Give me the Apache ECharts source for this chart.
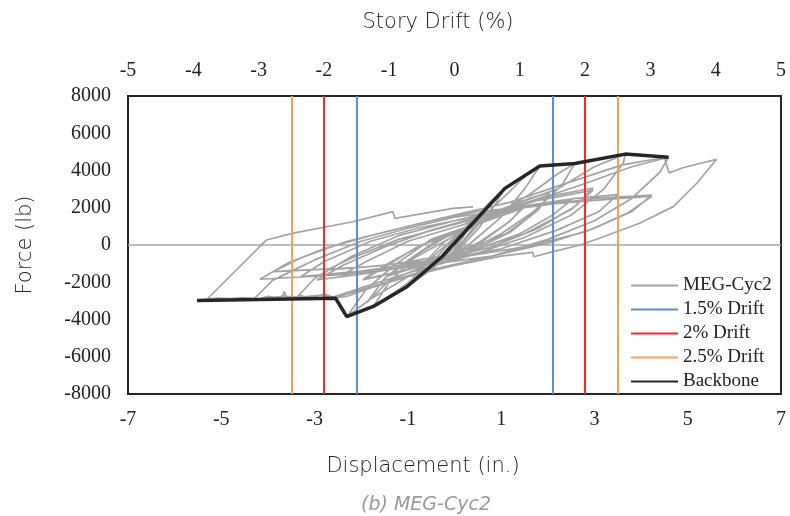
<!DOCTYPE html>
<html><head><meta charset="utf-8">
<script src="https://cdn.jsdelivr.net/npm/echarts@6/dist/echarts.min.js"></script>
<style>html,body{margin:0;padding:0;background:#fff}#c{width:790px;height:516px}</style>
</head><body><div id="c"></div>
<script>
// Tick labels
var forceTicks = [-8000,-6000,-4000,-2000,0,2000,4000,6000,8000];
var dispTicks = [-7,-5,-3,-1,1,3,5,7];
var driftTicks = [-5,-4,-3,-2,-1,0,1,2,3,4,5];
var storyHeight = 140; // in. (7 in. = 5 %)

// Drift limits (%)
var driftLevels = [1.5, 2, 2.5];
var driftNames = ['1.5% Drift','2% Drift','2.5% Drift'];
var driftColors = ['#5B8FD0','#FF2525','#F9A04E'];

// Backbone (displacement in., force lb)
var backbone = [[-5.52,-2980],[-2.55,-2860],[-2.31,-3850],[-1.74,-3300],[-1.02,-2240],[-0.27,-630],
  [1.08,3040],[1.83,4240],[2.58,4380],[3.66,4880],[4.59,4710]];

// Cyclic test curve MEG-Cyc2 (displacement in., force lb)
var megCyc2 = [
 [0,0],[0.12,500],[0.25,900],[0.1,300],[0,-150],[-0.25,-650],[-0.1,-200],[0,200],
 [0.25,900],[0.45,1500],[0.25,700],[0,-300],[-0.25,-800],[-0.45,-1100],[-0.25,-500],[0,300],
 [0.4,1200],[0.7,2100],[0.45,1100],[0,-400],[-0.4,-1100],[-0.65,-1550],[-0.4,-700],[0,400],
 [0.5,1600],[0.8,2400],[1.08,3040],[0.8,1900],[0.3,500],[0,-400],[-0.6,-1500],[-1.02,-2240],[-0.7,-1100],[-0.2,200],[0,500],
 [0.5,1300],[0.8,1950],[0.55,1000],[0,-500],[-0.5,-1100],[-0.8,-1450],[-0.5,-700],[0,400],
 [0.6,1500],[1.2,2900],[1.55,3800],[1.83,4240],[1.5,3000],[1.0,1500],[0.3,0],[-0.5,-1100],[-1.2,-2400],[-1.74,-3300],[-1.4,-2000],[-0.8,-500],[0,700],
 [0.6,1200],[1.1,1800],[1.47,2060],[1.2,1300],[0.6,200],[0,-500],[-0.8,-1300],[-1.4,-1900],[-1.88,-3100],[-1.5,-1800],[-1.1,-1000],[-0.4,200],[0,600],
 [0.7,1300],[1.47,1980],[1.15,1200],[0.5,100],[-0.2,-700],[-1.4,-1650],[-1.05,-950],[0,500],
 [0.8,1500],[1.6,2700],[2.2,3800],[2.58,4380],[2.3,3200],[1.7,1800],[1.0,600],[0,-700],[-1.0,-1700],[-1.8,-2900],[-2.31,-3850],[-1.9,-2400],[-1.3,-1100],[-0.5,300],[0.3,1000],
 [1.0,1900],[1.6,2500],[2.04,2800],[1.8,1900],[1.2,700],[0.3,-400],[-0.8,-1200],[-1.96,-1880],[-1.5,-1200],[-0.8,-100],[0.2,900],
 [1.2,2000],[2.04,2700],[1.75,1800],[1.1,600],[0,-500],[-1.0,-1300],[-1.96,-1850],[-1.5,-1100],[-0.7,0],[0.3,900],
 [1.0,1700],[1.8,2200],[2.5,2400],[2.1,1600],[1.4,600],[0.4,-300],[-0.9,-1000],[-2.4,-1600],[-1.9,-900],[-1.0,200],[0.2,1100],
 [1.2,2100],[2.2,3000],[3.0,4200],[3.66,4880],[3.62,4400],[3.2,3000],[2.5,1600],[1.5,400],[0.3,-600],[-1.0,-1500],[-2.0,-2300],[-2.6,-2800],[-2.8,-2650],[-3.0,-2780],[-3.4,-2870],[-3.0,-1800],[-2.2,-600],[-1.2,500],[0,1300],
 [1.0,1900],[2.0,2600],[2.97,3060],[2.6,2100],[1.8,900],[0.8,-100],[-0.5,-900],[-1.8,-1500],[-2.95,-1880],[-2.4,-1100],[-1.5,-100],[-0.5,800],[0.5,1500],
 [1.8,2400],[2.97,2950],[2.5,1900],[1.5,600],[0.2,-400],[-1.5,-1100],[-2.74,-1340],[-2.2,-700],[-1.2,300],[0,1100],
 [1.5,2100],[2.6,2500],[3.5,2700],[3.1,1800],[2.2,800],[1.0,-200],[-0.6,-900],[-2.0,-1400],[-3.3,-1700],[-2.8,-900],[-1.8,200],[-0.8,900],[0.2,1400],
 [1.5,2200],[2.8,3300],[3.8,4200],[4.59,4710],[4.4,3900],[3.8,2500],[3.0,1300],[2.0,300],[0.8,-600],[-0.8,-1500],[-2.0,-2400],[-2.6,-2850],[-2.9,-2700],[-3.3,-2800],[-3.7,-2750],[-4.0,-2850],[-4.3,-2900],[-3.9,-1900],[-3.0,-800],[-2.0,200],[-1.0,900],[0,1500],
 [1.5,2000],[3.0,2500],[4.23,2680],[3.8,1800],[3.0,900],[2.0,100],[0.8,-600],[-1.0,-1200],[-2.5,-1600],[-4.17,-1840],[-3.6,-1000],[-2.8,-200],[-1.8,500],[-0.5,1300],[0.5,1800],
 [2.5,2300],[4.23,2620],[3.7,1700],[2.8,700],[1.5,-100],[0,-700],[-2.0,-1200],[-3.89,-1430],[-3.3,-700],[-2.3,200],[-1.0,1000],[0,1600],
 [1.2,2300],[2.5,3400],[3.6,4300],[4.5,4700],[4.6,3870],[4.9,4150],[5.3,4400],[5.62,4600],[5.2,3330],[4.69,2060],[3.98,1180],[3.12,375],[2.7,0],[2.2,-300],[1.7,-630],[1.68,-400],[1.0,-600],[0,-1100],[-1.0,-1700],[-1.8,-2300],[-2.3,-2750],[-2.6,-2850],
 [-2.7,-2700],[-2.8,-2900],[-3.0,-2780],[-3.1,-2870],[-3.3,-2720],[-3.4,-2880],[-3.6,-2800],[-3.65,-2500],[-3.7,-2860],[-4.0,-2760],[-4.2,-2900],[-4.5,-2820],[-4.8,-2880],[-5.1,-2850],[-5.5,-2980],
 [-5.3,-2900],[-4.03,270],[-3.46,640],[-2.18,1250],[-1.32,1790],[-1.28,1430],[-0.03,1970],[0.4,2050]
];

var numFont = {fontFamily:'Liberation Serif', fontSize:20, color:'#222'};
function titleFont(pad){ return {fontFamily:'DejaVu Sans', fontWeight:200, fontSize:21, color:'#222', padding:pad}; }

var series = [{
  name:'MEG-Cyc2', type:'line', data:megCyc2, showSymbol:false, symbol:'none', animation:false,
  lineStyle:{color:'#A3A3A3', width:1.7}, itemStyle:{color:'#A3A3A3'}, z:2,
  markLine:{silent:true, symbol:['none','none'], label:{show:false}, animation:false,
    lineStyle:{color:'#A6A6A6', width:1.5, type:'solid'}, data:[{yAxis:0}]}
}];
driftLevels.forEach(function(p,i){
  var d = p/100*storyHeight;
  series.push({
    name:driftNames[i], type:'line', data:[[d,0]], showSymbol:false, symbol:'none', animation:false,
    lineStyle:{color:driftColors[i], width:2}, itemStyle:{color:driftColors[i]}, z:3,
    markLine:{silent:true, symbol:['none','none'], label:{show:false}, animation:false,
      lineStyle:{color:driftColors[i], width:2, type:'solid'}, data:[{xAxis:-d},{xAxis:d}]}
  });
});
series.push({name:'Backbone', type:'line', data:backbone, showSymbol:false, symbol:'none', animation:false,
  lineStyle:{color:'#262626', width:3.5}, itemStyle:{color:'#262626'}, z:5});

var chart = echarts.init(document.getElementById('c'), null, {renderer:'canvas'});
chart.setOption({
  backgroundColor:'#fff',
  animation:false,
  grid:{left:128, right:9, top:96, bottom:122, show:true, borderColor:'#262626', borderWidth:2, backgroundColor:'transparent'},
  legend:{orient:'vertical', left:625, top:271, itemWidth:47, itemHeight:14, itemGap:5,
    itemStyle:{opacity:0},
    textStyle:{fontFamily:'Liberation Serif', fontSize:19, color:'#222'},
    data:['MEG-Cyc2','1.5% Drift','2% Drift','2.5% Drift','Backbone']},
  xAxis:[{
    type:'value', min:-7, max:7, interval:1, position:'bottom',
    axisLine:{show:false}, axisTick:{show:false}, splitLine:{show:false},
    axisLabel:Object.assign({margin:16, formatter:function(v){return (Math.abs(v)%2===1)? String(v):'';}}, numFont),
    name:'Displacement (in.)', nameLocation:'middle', nameGap:62, nameTextStyle:titleFont([0,63,0,0])
  },{
    type:'value', min:driftTicks[0], max:driftTicks[driftTicks.length-1], interval:1, position:'top',
    axisLine:{show:false}, axisTick:{show:false}, splitLine:{show:false},
    axisLabel:Object.assign({margin:15}, numFont),
    name:'Story Drift (%)', nameLocation:'middle', nameGap:63, nameTextStyle:titleFont([0,33,0,0])
  }],
  yAxis:{type:'value', min:forceTicks[0], max:forceTicks[forceTicks.length-1], interval:2000,
    axisLine:{show:false}, axisTick:{show:false}, splitLine:{show:false},
    axisLabel:Object.assign({margin:17, formatter:function(v){return String(v);}}, numFont),
    name:'Force (lb)', nameLocation:'middle', nameGap:92, nameRotate:90, nameTextStyle:titleFont(0)},
  graphic:[{type:'text', x:426, y:505,
    style:{text:'(b) MEG-Cyc2', align:'center', verticalAlign:'middle', fontFamily:'DejaVu Sans', fontStyle:'italic', fontWeight:200, fontSize:19, fill:'#999'}}],
  series:series
});
</script></body></html>
